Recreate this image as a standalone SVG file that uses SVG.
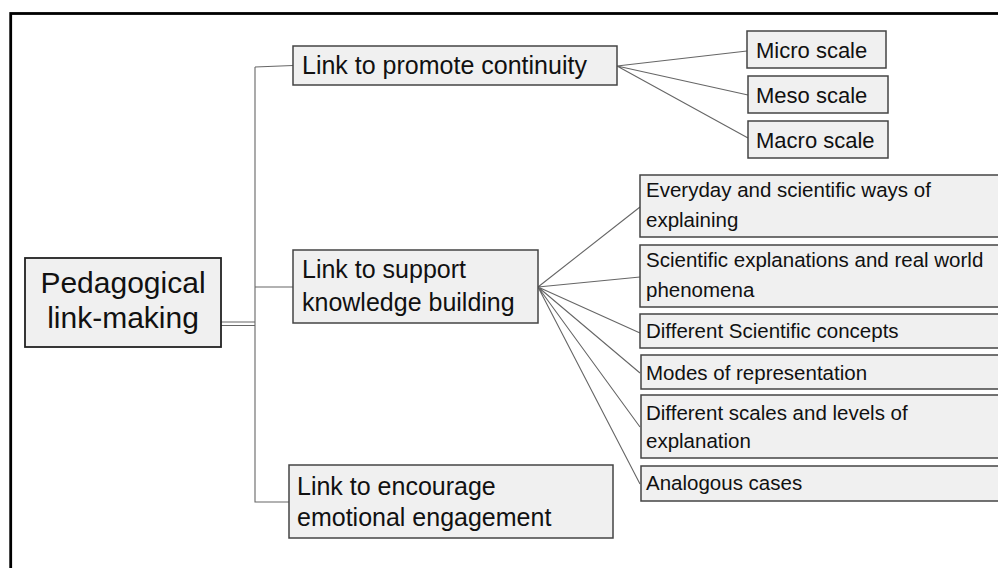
<svg xmlns="http://www.w3.org/2000/svg" width="998" height="568" viewBox="0 0 998 568">
<style>
.box{fill:#f0f0f0;stroke:#444;stroke-width:1.5}
.root{fill:#f0f0f0;stroke:#222;stroke-width:1.8}
.t{font-family:"Liberation Sans",Arial,sans-serif;fill:#111}
.l{font-size:25px}
.s{font-size:20.5px}
.m{font-size:22px}
.c{stroke:#666;stroke-width:1.1;fill:none}
</style>
<rect x="0" y="0" width="998" height="568" fill="#fff"/>
<rect x="10.7" y="13.5" width="1100" height="700" fill="none" stroke="#000" stroke-width="2.8"/>
<g id="connectors">
<path class="c" d="M255 67 L293 65.5 M255 67 L255 502 L289 502 M255 287 L293 287"/>
<path class="c" d="M221 322 L255 322 M221 325.5 L255 325.5"/>
<path class="c" d="M617 66 L747 51 M617 66 L748 95 M617 66 L748 138"/>
<path class="c" d="M538 287 L640 207 M538 287 L640 277 M538 287 L640 333 M538 287 L640 373 M538 287 L640 427 M538 287 L640 484"/>
</g>
<g id="root">
<rect class="root" x="25" y="258" width="196" height="89"/>
<text class="t" x="123" y="293" font-size="30" text-anchor="middle">Pedagogical</text>
<text class="t" x="123" y="328" font-size="30" text-anchor="middle">link-making</text>
</g>
<g id="continuity">
<rect class="box" x="293" y="46" width="324" height="39"/>
<text class="t l" x="302" y="74">Link to promote continuity</text>
</g>
<g id="knowledge">
<rect class="box" x="293" y="250" width="245" height="73"/>
<text class="t l" x="302" y="278">Link to support</text>
<text class="t l" x="302" y="311">knowledge building</text>
</g>
<g id="emotional">
<rect class="box" x="289" y="465" width="324" height="73"/>
<text class="t l" x="297" y="495">Link to encourage</text>
<text class="t l" x="297" y="526">emotional engagement</text>
</g>
<g id="micro">
<rect class="box" x="747" y="31" width="139" height="37"/>
<text class="t m" x="756" y="58">Micro scale</text>
</g>
<g id="meso">
<rect class="box" x="748" y="76" width="140" height="37"/>
<text class="t m" x="756" y="103">Meso scale</text>
</g>
<g id="macro">
<rect class="box" x="748" y="121" width="140" height="37"/>
<text class="t m" x="756" y="148">Macro scale</text>
</g>
<g id="everyday">
<rect class="box" x="640" y="175" width="400" height="62"/>
<text class="t s" x="646" y="197">Everyday and scientific ways of</text>
<text class="t s" x="646" y="227">explaining</text>
</g>
<g id="explanations">
<rect class="box" x="640" y="245" width="400" height="62"/>
<text class="t s" x="646" y="267">Scientific explanations and real world</text>
<text class="t s" x="646" y="297">phenomena</text>
</g>
<g id="concepts">
<rect class="box" x="640" y="314" width="400" height="34"/>
<text class="t s" x="646" y="338">Different Scientific concepts</text>
</g>
<g id="modes">
<rect class="box" x="641" y="355" width="400" height="34"/>
<text class="t s" x="646" y="380">Modes of representation</text>
</g>
<g id="scales">
<rect class="box" x="641" y="395" width="400" height="63"/>
<text class="t s" x="646" y="420">Different scales and levels of</text>
<text class="t s" x="646" y="448">explanation</text>
</g>
<g id="analogous">
<rect class="box" x="641" y="466" width="400" height="35"/>
<text class="t s" x="646" y="490">Analogous cases</text>
</g>
</svg>
